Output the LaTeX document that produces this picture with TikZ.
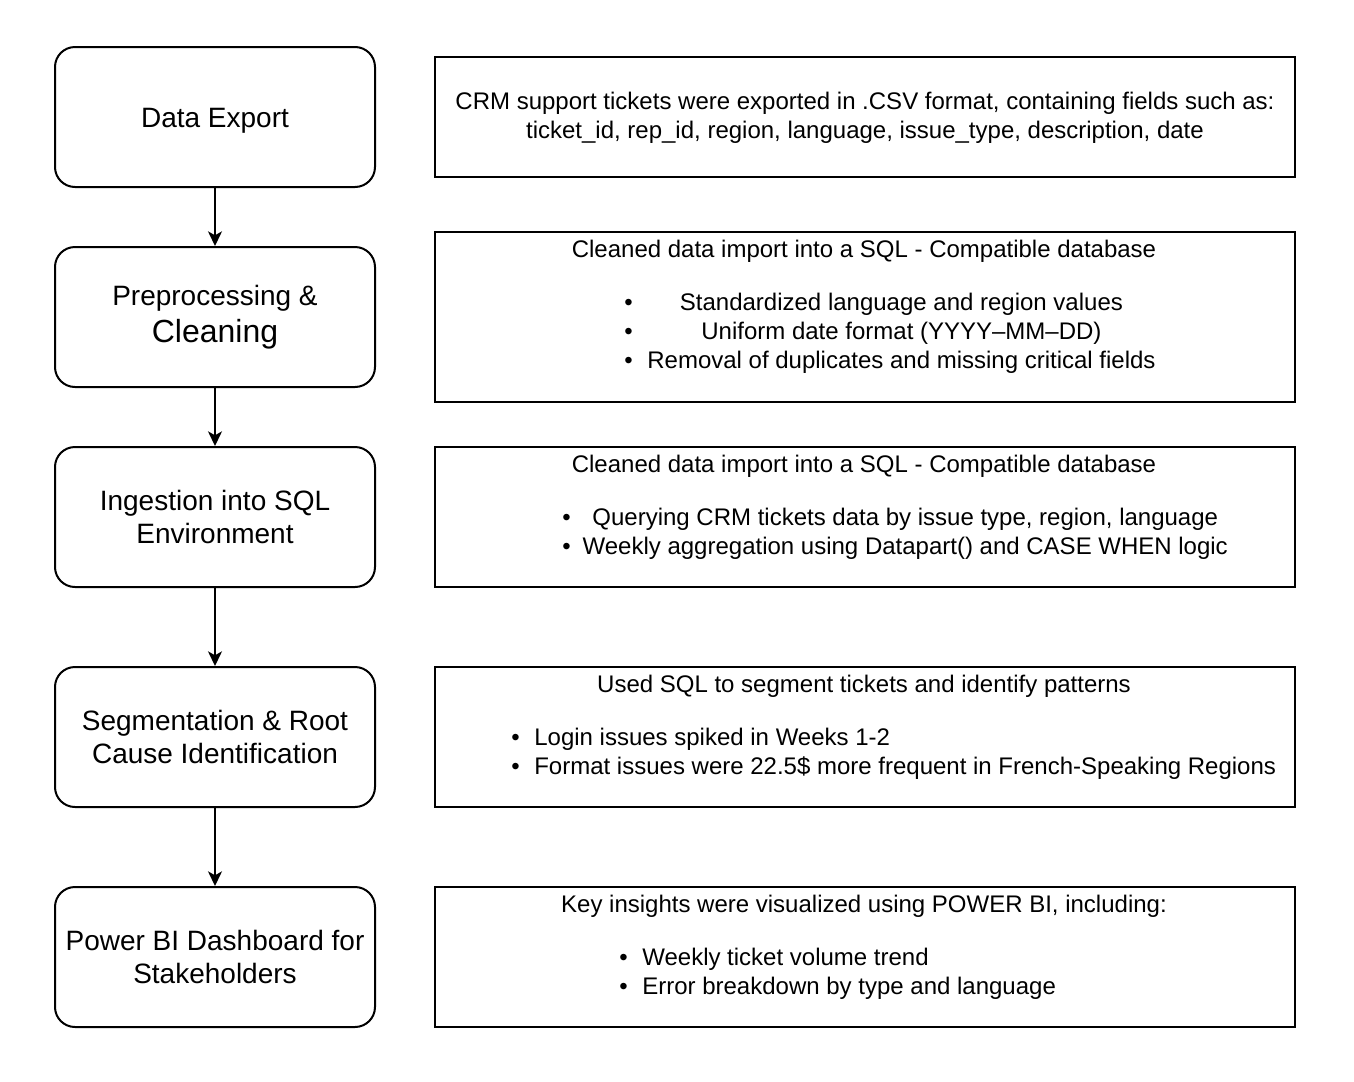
\documentclass[tikz,border=0pt]{standalone}
\usepackage{fontspec}
\setmainfont{Liberation Sans}
\usetikzlibrary{arrows.meta}
\tikzset{
  stage/.style={draw, line width=1.5pt, rounded corners=15pt, minimum width=240pt, minimum height=105pt,
    align=center, inner sep=0pt, font=\fontsize{21}{24.75}\selectfont},
  detail/.style={draw, line width=1.5pt, minimum width=645pt, inner sep=0pt, align=center,
    font=\fontsize{18}{21.75}\selectfont},
  dtext/.style={inner sep=0pt, font=\fontsize{18}{21.75}\selectfont},
  flow/.style={-{Stealth[length=11pt,width=10.5pt,inset=3pt]}, line width=1.1pt}
}
\begin{document}
\begin{tikzpicture}[x=0.75pt, y=-0.75pt]
  \useasboundingbox (0,0) rectangle (1354,1082);

  \node[stage, text height=19.8pt] (export) at (215,117) {Data Export};
  \node[stage] (clean) at (215,317) {Preprocessing \&\\[3pt]{\fontsize{24}{28}\selectfont Cleaning}};
  \node[stage] (ingest) at (215,517) {Ingestion into SQL\\Environment};
  \node[stage] (segment) at (215,737) {Segmentation \& Root\\Cause Identification};
  \node[stage] (dash) at (215,957) {Power BI Dashboard for\\Stakeholders};

  \draw[flow] (export) -- (clean);
  \draw[flow] (clean) -- (ingest);
  \draw[flow] (ingest) -- (segment);
  \draw[flow] (segment) -- (dash);

  \node[detail, minimum height=90pt] (exportinfo) at (865,117) {};
  \node[dtext, align=center, anchor=base] (exporttext) at (865,138)
    {CRM support tickets were exported in .CSV format, containing fields such as:\\
     ticket\_id, rep\_id, region, language, issue\_type, description, date};

  \node[detail, minimum height=127.5pt] (cleaninfo) at (865,317) {};
  \node[dtext, anchor=base] (cleantitle) at (864,257) {Cleaned data import into a SQL - Compatible database};
  \node[dtext, anchor=base west] (cleanlist) at (624,310)
    {\begin{tabular}[t]{@{}c@{\hspace{11pt}}c@{}}
      \textbullet & Standardized language and region values\\
      \textbullet & Uniform date format (YYYY--MM--DD)\\
      \textbullet & Removal of duplicates and missing critical fields
    \end{tabular}};

  \node[detail, minimum height=105pt] (ingestinfo) at (865,517) {};
  \node[dtext, anchor=base] (ingesttitle) at (864,472) {Cleaned data import into a SQL - Compatible database};
  \node[dtext, anchor=base west] (ingestlist) at (562,525)
    {\begin{tabular}[t]{@{}c@{\hspace{9pt}}c@{}}
      \textbullet & Querying CRM tickets data by issue type, region, language\\
      \textbullet & Weekly aggregation using Datapart() and CASE WHEN logic
    \end{tabular}};

  \node[detail, minimum height=105pt] (segmentinfo) at (865,737) {};
  \node[dtext, anchor=base] (segmenttitle) at (864,692) {Used SQL to segment tickets and identify patterns};
  \node[dtext, anchor=base west] (segmentlist) at (511,745)
    {\begin{tabular}[t]{@{}c@{\hspace{11pt}}l@{}}
      \textbullet & Login issues spiked in Weeks 1-2\\
      \textbullet & Format issues were 22.5\$ more frequent in French-Speaking Regions
    \end{tabular}};

  \node[detail, minimum height=105pt] (dashinfo) at (865,957) {};
  \node[dtext, anchor=base] (dashtitle) at (864,912) {Key insights were visualized using POWER BI, including:};
  \node[dtext, anchor=base west] (dashlist) at (619,965)
    {\begin{tabular}[t]{@{}c@{\hspace{11pt}}l@{}}
      \textbullet & Weekly ticket volume trend\\
      \textbullet & Error breakdown by type and language
    \end{tabular}};
\end{tikzpicture}
\end{document}
